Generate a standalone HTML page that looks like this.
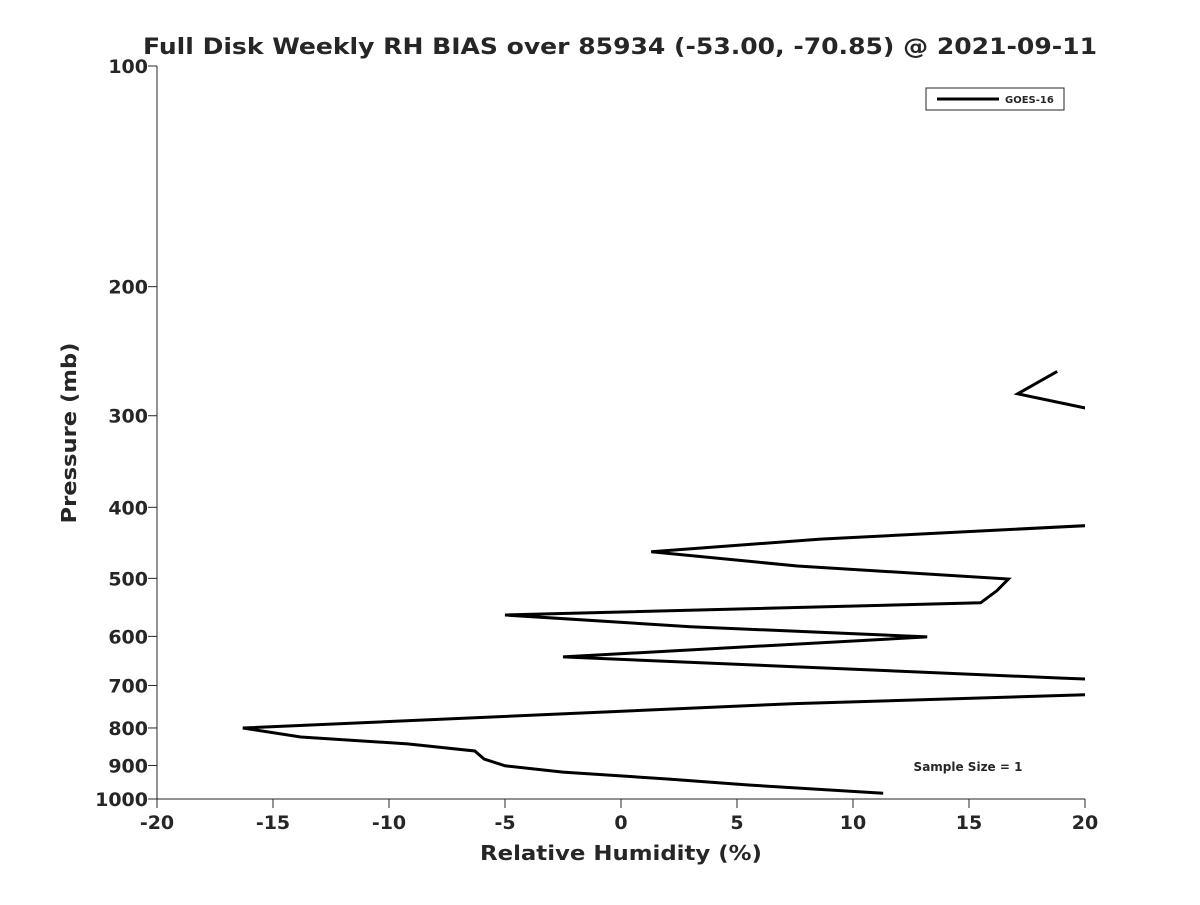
<!DOCTYPE html>
<html><head><meta charset="utf-8"><style>
body{margin:0;background:#fff;}
text{font-family:"DejaVu Sans","Liberation Sans",sans-serif;font-weight:bold;fill:#262626;}
</style></head><body>
<svg id="chart" width="1200" height="900">
<defs><clipPath id="clip"><rect x="157" y="66" width="928" height="733"/></clipPath></defs>
<text x="620" y="54" font-size="22" text-anchor="middle" textLength="954" lengthAdjust="spacingAndGlyphs" fill="#000">Full Disk Weekly RH BIAS over 85934 (-53.00, -70.85) @ 2021-09-11</text>
<g id="axes"></g>
<g id="series" clip-path="url(#clip)"></g>
<g>
<rect x="926" y="88" width="138" height="22" fill="#fff" stroke="#262626" stroke-width="1"/>
<line x1="937" y1="99" x2="999" y2="99" stroke="#000" stroke-width="3"/>
<text x="1005" y="103" font-size="10" fill="#000">GOES-16</text>
</g>
<text x="968" y="771" font-size="12" text-anchor="middle" fill="#000">Sample Size = 1</text>
<text x="621" y="860" font-size="20" text-anchor="middle" textLength="282" lengthAdjust="spacingAndGlyphs">Relative Humidity (%)</text>
<text transform="translate(76,433) rotate(-90)" font-size="20" text-anchor="middle" textLength="181" lengthAdjust="spacingAndGlyphs">Pressure (mb)</text>
</svg>
<script>
const xTicks=[-20,-15,-10,-5,0,5,10,15,20];
const yTicks=[100,200,300,400,500,600,700,800,900,1000];
const rhValues=[18.8,17.1,20.5,null,20.5,8.6,1.3,7.6,16.7,16.2,15.5,-5,3,13.2,-2.5,19,20.5,null,20.5,7.5,-16.3,-13.8,-9.2,-6.3,-5.9,-5,-2.5,2,5.5,11.3];
const pressures=[261,280,295,null,423,442,460,481,501,520,540,561,582,601,640,684,687,null,720,741,800,823,841,860,882,901,919,939,957,982];
const X0=157,X1=1085,Y0=66,Y1=799;
const xs=v=>X0+(v+20)/40*(X1-X0);
const ys=p=>Y0+(Math.log10(p)-2)*(Y1-Y0);
const NS="http://www.w3.org/2000/svg";
const ax=document.getElementById('axes');
function mk(t,a,p){const e=document.createElementNS(NS,t);for(const k in a)e.setAttribute(k,a[k]);(p||ax).appendChild(e);return e;}
let l=mk('line',{x1:X0,y1:Y0,x2:X0,y2:Y1,stroke:'#262626','stroke-width':1});


l=mk('line',{x1:X0,y1:Y1,x2:X1,y2:Y1,stroke:'#262626','stroke-width':1});


xTicks.forEach(v=>{
 const x=xs(v);
 mk('line',{x1:x,y1:Y1,x2:x,y2:Y1+9,stroke:'#262626'});
 const t=mk('text',{x:x,y:Y1+30,'font-size':19,'text-anchor':'middle'});
 t.textContent=v;
 
 
});
yTicks.forEach(v=>{
 const y=ys(v);
 mk('line',{x1:X0-9,y1:y,x2:X0,y2:y,stroke:'#262626'});
 const t=mk('text',{x:X0-9,y:y+7,'font-size':19,'text-anchor':'end'});
 t.textContent=v;
 
 
});
const sg=document.getElementById('series');
let segs=[],cur=[];
rhValues.forEach((v,i)=>{
 if(v===null||pressures[i]===null){if(cur.length)segs.push(cur);cur=[];}
 else cur.push(xs(v).toFixed(1)+','+ys(pressures[i]).toFixed(1));
});
if(cur.length)segs.push(cur);
segs.forEach(s=>{
 const p=mk('polyline',{points:s.join(' '),fill:'none',stroke:'#000','stroke-width':3,'stroke-linejoin':'miter'},sg);
 
 
});
</script>
</body></html>
